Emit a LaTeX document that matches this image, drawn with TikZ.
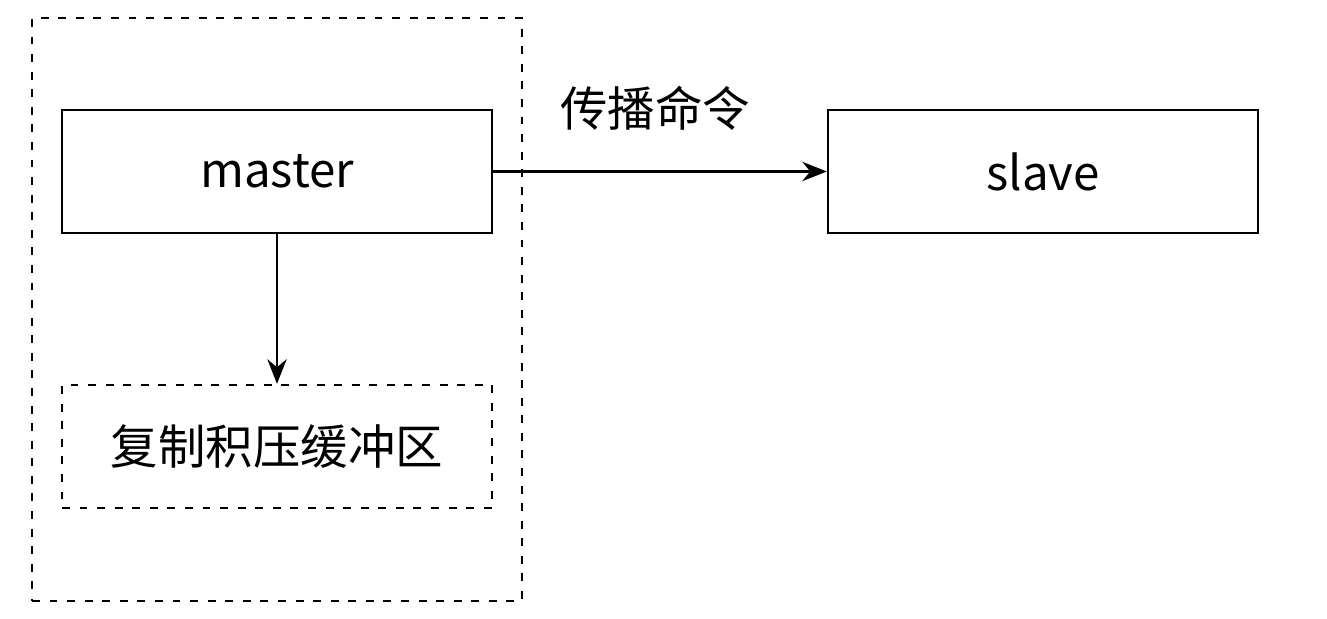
\documentclass[tikz,border=0pt]{standalone}
\usepackage{fontspec}
\setmainfont{Noto Sans CJK SC}
\usetikzlibrary{arrows.meta,positioning}
\tikzset{replbox/.style={draw=black,line width=1.3pt,minimum width=8.6cm,minimum height=2.46cm,font=\fontsize{27}{30}\selectfont,inner sep=0pt},replgroup/.style={draw=black,line width=1.3pt,dash pattern=on 4.5pt off 5.5pt},replarr/.style={-{Stealth[length=14pt,width=11pt]},line width=1.3pt},repllabel/.style={font=\fontsize{27}{30}\selectfont,inner sep=0pt}}

\begin{document}
\begin{tikzpicture}
\useasboundingbox (0,0) rectangle (26.54,12.36);
\node[replgroup,minimum width=9.8cm,minimum height=11.66cm] (grp) at (5.54,6.17) {};
\node[replbox] (master) at (5.54,8.93) {master};
\node[replbox] (slave) at (20.86,8.93) {slave};
\node[replbox,dash pattern=on 4.5pt off 5.5pt] (buf) at (5.54,3.43) {复制积压缓冲区};
\draw[replarr] (master)--(slave);
\node[repllabel] (prop) at (13.1,10.2) {传播命令};
\draw[replarr] (master)--(buf);
\end{tikzpicture}
\end{document}
